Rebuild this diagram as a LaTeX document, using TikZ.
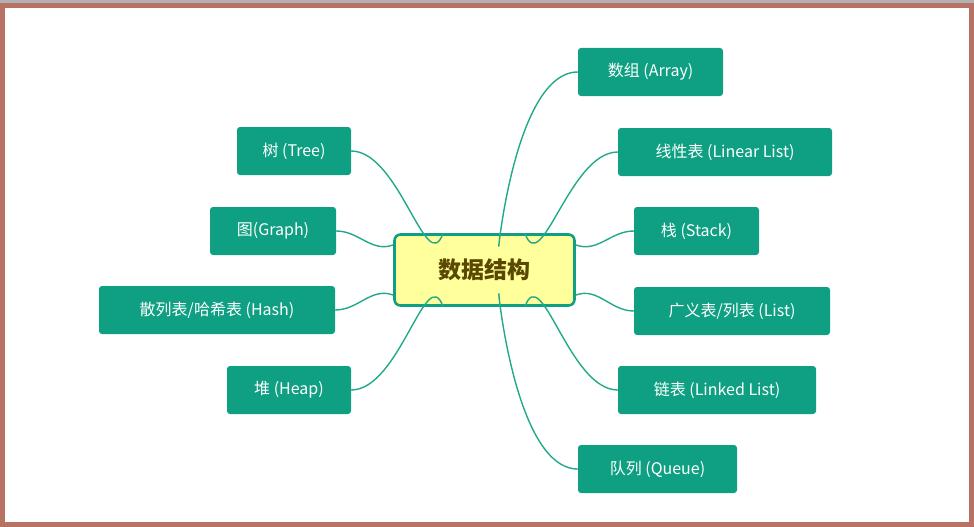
\documentclass[tikz,border=0pt]{standalone}
\usepackage{fontspec}
\newfontfamily\cjk{Noto Sans CJK SC}
\definecolor{frame}{HTML}{B87264}
\definecolor{leaf}{HTML}{0FA083}
\definecolor{edge}{HTML}{22A98A}
\definecolor{cfill}{HTML}{FFFF9C}
\definecolor{ctext}{HTML}{5A4800}
\begin{document}
\begin{tikzpicture}[x=1pt,y=-1pt,
  leafbox/.style={fill=leaf,rounded corners=3pt,text=white,font=\cjk\fontsize{16}{18}\selectfont,inner sep=0pt},
  link/.style={edge,line width=1.4pt}]
\useasboundingbox (0,0) rectangle (974,527);
\fill[gray!60] (0,0) rectangle (974,3);
\draw[frame,line width=5pt] (2.5,5.5) rectangle (971.5,524.5);
\node[draw=leaf,line width=2.6pt,fill=cfill,rounded corners=6pt,minimum width=180pt,minimum height=71pt,inner sep=0pt,text=ctext,font=\cjk\bfseries\fontsize{23}{26}\selectfont] (c) at (484.5,270) {数据结构};
\newcommand{\leafnode}[6]{\node[leafbox,minimum width=#4pt,minimum height=48pt] (#1) at (#2,#3) {#5};}
\leafnode{arr}{650.5}{72}{145}{数组 (Array)}{}
\leafnode{lin}{725}{152}{214}{线性表 (Linear List)}{}
\leafnode{stk}{696.5}{231}{125}{栈 (Stack)}{}
\leafnode{lst}{732}{311}{196}{广义表/列表 (List)}{}
\leafnode{lnk}{717}{390}{198}{链表 (Linked List)}{}
\leafnode{que}{657.5}{469}{159}{队列 (Queue)}{}
\leafnode{tre}{294}{151}{114}{树 (Tree)}{}
\leafnode{gra}{273}{231}{126}{图(Graph)}{}
\leafnode{has}{217}{310}{236}{散列表/哈希表 (Hash)}{}
\leafnode{hep}{289}{390}{124}{堆 (Heap)}{}
\coordinate (cA) at (500,233.5);
\coordinate (cL) at (525,233.5);
\coordinate (cS) at (576,245);
\coordinate (cT) at (576,295);
\coordinate (cK) at (525,306.5);
\coordinate (cQ) at (500,306.5);
\coordinate (cR) at (443,233.5);
\coordinate (cG) at (393,245);
\coordinate (cH) at (393,295);
\coordinate (cP) at (443,306.5);
\draw[link] (cA) to[out=-95,in=180] (arr.west);
\draw[link] (cL) to[out=-70,in=180] (lin.west);
\draw[link] (cS) to[out=-20,in=180] (stk.west);
\draw[link] (cT) to[out=20,in=180] (lst.west);
\draw[link] (cK) to[out=70,in=180] (lnk.west);
\draw[link] (cQ) to[out=95,in=180] (que.west);
\draw[link] (cR) to[out=-110,in=0] (tre.east);
\draw[link] (cG) to[out=-160,in=0] (gra.east);
\draw[link] (cH) to[out=160,in=0] (has.east);
\draw[link] (cP) to[out=110,in=0] (hep.east);
\end{tikzpicture}
\end{document}
